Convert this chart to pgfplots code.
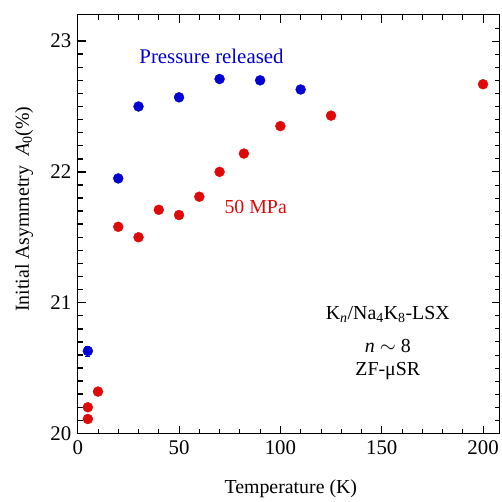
\documentclass[border=0pt]{standalone}
\usepackage{pgfplots}
\pgfplotsset{compat=1.18}
\usepackage{fontspec}
\setmainfont{Liberation Serif}
\definecolor{pblue}{RGB}{0,0,210}
\definecolor{pred}{RGB}{222,10,10}
\begin{document}
\begin{tikzpicture}
\begin{axis}[
  scale only axis, width=423.5bp, height=420bp,
  xmin=0, xmax=208.2, ymin=20, ymax=23.2,
  xtick={0,50,100,150,200}, ytick={20,21,22,23},
  xticklabels={0,50,100,150,200}, yticklabels={20,21,22,23},
  minor x tick num=4, minor y tick num=9,
  xtick pos=left, ytick pos=left,
  major tick length=0.28cm, minor tick length=0.17cm,
  xtick style={black, line width=0.8pt},
  ytick style={black, line width=1.5pt},
  axis line style={line width=0.9pt},
  ticklabel style={font=\fontsize{21}{24}\selectfont},
  xticklabel style={yshift=-4bp},
  yticklabel style={xshift=-3bp},
  xlabel={Temperature (K)},
  ylabel={Initial Asymmetry \ \textit{A}\textsubscript{0}(\%)},
  label style={font=\fontsize{20}{24}\selectfont},
  xlabel style={at={(axis description cs:0.505,-0.133)}, anchor=center},
  ylabel style={at={(axis description cs:-0.127,0.536)}, anchor=center},
]
\addplot[only marks, mark=*, mark size=5bp, color=pblue,
  error bars/.cd, y dir=both, y explicit, error bar style={line width=1pt}, error mark options={rotate=90, mark size=2.5bp}]
  coordinates {
  (5,20.63) +- (0,0.04)
  (20,21.95) +- (0,0.02)
  (30,22.50) +- (0,0.02)
  (50,22.57) +- (0,0.02)
  (70,22.71) +- (0,0.02)
  (90,22.70) +- (0,0.02)
  (110,22.63) +- (0,0.02)
};
\addplot[only marks, mark=*, mark size=5bp, color=pred]
  coordinates {
  (5,20.11) (5,20.20) (10,20.32) (20,21.58) (30,21.50) (40,21.71) (50,21.67)
  (60,21.81) (70,22.00) (82,22.14) (100,22.35) (125,22.43) (200,22.67)
};
\node[text=pblue, font=\fontsize{21}{24}\selectfont] at (axis cs:66,22.88) {Pressure released};
\node[text=pred, font=\fontsize{20}{24}\selectfont] at (axis cs:87.8,21.73) {50 MPa};
\node[font=\fontsize{20}{24}\selectfont] at (axis cs:153,20.91) {K\textsubscript{\textit{n}}/Na\textsubscript{4}K\textsubscript{8}-LSX};
\node[font=\fontsize{20}{24}\selectfont] at (axis cs:153,20.67) {\textit{n} $\sim$ 8};
\node[font=\fontsize{20}{24}\selectfont] at (axis cs:153,20.48) {ZF-μSR};
\end{axis}
% axis frame ticks on the top and right sides (axis box: 423.5bp x 420bp at the origin)
\foreach \t in {0,50,100,150,200}
  \draw[line width=0.8pt] ({\t*2.0341bp},420bp) -- ++(0bp,-8bp);
\foreach \t in {10,20,30,40,60,70,80,90,110,120,130,140,160,170,180,190}
  \draw[line width=0.8pt] ({\t*2.0341bp},420bp) -- ++(0bp,-5bp);
\foreach \k in {0,10,20,30}
  \draw[line width=0.8pt] (423.5bp,{\k*13.125bp}) -- ++(-8bp,0bp);
\foreach \k in {1,2,3,4,5,6,7,8,9,11,12,13,14,15,16,17,18,19,21,22,23,24,25,26,27,28,29,31}
  \draw[line width=0.8pt] (423.5bp,{\k*13.125bp}) -- ++(-5bp,0bp);
\path[use as bounding box] (-78bp,-66bp) rectangle (424bp,435bp);
\end{tikzpicture}
\end{document}
